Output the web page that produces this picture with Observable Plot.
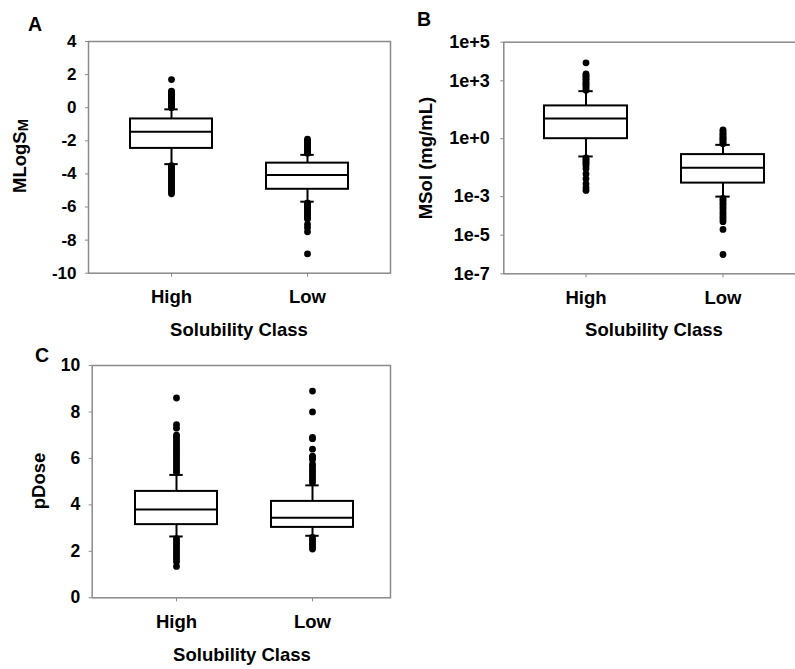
<!DOCTYPE html>
<html>
<head>
<meta charset="utf-8">
<script src="https://cdn.jsdelivr.net/npm/d3@7"></script>
<script src="https://cdn.jsdelivr.net/npm/@observablehq/plot@0.6"></script>
<style>
  html, body { margin: 0; padding: 0; background: #fff; overflow: hidden; }
  #wrap { position: relative; width: 795px; height: 669px; overflow: hidden; background: #fff;
          font-family: "Liberation Sans", Arial, sans-serif; font-weight: bold; color: #000; }
  .panel { position: absolute; }
  .letter { position: absolute; font-size: 19.5px; line-height: 1; font-weight: bold; }
  .xtitle { position: absolute; font-size: 18.5px; line-height: 1; transform: translateX(-50%); white-space: nowrap; }
  .ytitle { position: absolute; font-size: 18.5px; line-height: 1; white-space: nowrap;
            transform: translate(-50%, -50%) rotate(-90deg); }
  .ytitle sub { font-size: 0.8em; vertical-align: -0.15em; line-height: 0; }
</style>
</head>
<body>
<div id="wrap"></div>
<script>
// ---------- data ----------
const categories = ["High", "Low"];

// Panel A: MLogSM
const aTicks = [-10, -8, -6, -4, -2, 0, 2, 4];
const aLowerCap = [-3.41, -5.68];
const aQ1 = [-2.46, -4.93];
const aMedian = [-1.45, -4.06];
const aQ3 = [-0.68, -3.35];
const aUpperCap = [-0.1, -2.85];
const aOutliersHigh = [0.0, 0.1, 0.15, 0.2, 0.3, 0.35, 0.4, 0.5, 0.55, 0.6, 0.7, 0.75, 0.8, 0.9, 0.95, 1.0, 1.7,
  -3.5, -3.6, -3.7, -3.8, -3.9, -4.0, -4.1, -4.2, -4.3, -4.4, -4.5, -4.6, -4.7, -4.8, -4.9, -5.0, -5.1, -5.2];
const aOutliersLow = [-2.75, -2.7, -2.6, -2.5, -2.45, -2.4, -2.3, -2.25, -2.2, -2.1, -2.05, -2.0, -1.9,
  -5.75, -5.85, -5.95, -6.05, -6.15, -6.25, -6.35, -6.45, -6.55, -6.65, -6.73, -7.05, -7.25, -7.5, -8.83];

// Panel B: MSol (mg/mL), log scale
const bTicks = [1e-7, 1e-5, 1e-3, 1, 1e3, 1e5];
const bTickLabels = ["1e-7", "1e-5", "1e-3", "1e+0", "1e+3", "1e+5"];
const bLowerCap = [0.12, 0.001];
const bQ1 = [1.0, 0.005];
const bMedian = [11, 0.031];
const bQ3 = [50, 0.15];
const bUpperCap = [290, 0.48];
const bOutliersHigh = [320, 400, 500, 600, 700, 800, 1000, 1200, 1400, 1700, 2000, 2300, 8500,
  0.1, 0.085, 0.07, 0.06, 0.05, 0.04, 0.028, 0.015, 0.0083, 0.0046, 0.0029, 0.0021];
const bOutliersLow = [0.55, 0.65, 0.75, 0.9, 1.0, 1.2, 1.4, 1.7, 2.0, 2.5, 2.9,
  8e-4, 6.5e-4, 5e-4, 4e-4, 3e-4, 2.4e-4, 1.8e-4, 1.4e-4, 1.1e-4, 8.5e-5, 6.5e-5, 5e-5, 2e-5, 1e-6];

// Panel C: pDose
const cTicks = [0, 2, 4, 6, 8, 10];
const cLowerCap = [2.64, 2.67];
const cQ1 = [3.15, 3.03];
const cMedian = [3.8, 3.45];
const cQ3 = [4.58, 4.15];
const cUpperCap = [5.29, 4.84];
const cOutliersHigh = [5.4, 5.5, 5.6, 5.7, 5.8, 5.9, 6.0, 6.1, 6.2, 6.3, 6.4, 6.5, 6.6, 6.7, 6.8, 6.9, 7.0, 7.3, 7.45, 8.6,
  2.55, 2.45, 2.35, 2.25, 2.15, 2.05, 1.95, 1.85, 1.75, 1.65, 1.55, 1.35];
const cOutliersLow = [4.95, 5.05, 5.15, 5.25, 5.35, 5.45, 5.55, 5.65, 5.75, 5.95, 6.05, 6.1, 6.4, 6.85, 6.9, 8.0, 8.9,
  2.6, 2.5, 2.4, 2.3, 2.2, 2.1];

// ---------- helpers ----------
function summaryTable(lo, q1, med, q3, hi) {
  return categories.map((c, i) => ({cls: c, lo: lo[i], q1: q1[i], med: med[i], q3: q3[i], hi: hi[i]}));
}
function outlierTable(high, low) {
  return high.map(v => ({cls: "High", v})).concat(low.map(v => ({cls: "Low", v})));
}

const wrap = document.getElementById("wrap");
const GRAY = "#8a8a8a";
const LW = 2;

function panel({left, top, width, height, mL, mR, mT, mB, xRange, y, yTicks, yFormat, yPad, yFont, summary, outliers}) {
  const chart = Plot.plot({
    width, height,
    marginLeft: mL, marginRight: mR, marginTop: mT, marginBottom: mB,
    style: {fontFamily: '"Liberation Sans", Arial, sans-serif', color: "black", background: "transparent", overflow: "visible"},
    x: {type: "band", domain: categories, range: xRange, paddingInner: 0.395, paddingOuter: 0.3},
    y: y,
    marks: [
      Plot.frame({stroke: GRAY, strokeWidth: 1.5}),
      Plot.axisY({ticks: yTicks, tickFormat: yFormat, tickSize: 3, tickPadding: yPad, stroke: GRAY, fill: "black",
                  fontSize: yFont, fontWeight: "bold", label: null}),
      Plot.axisX({tickSize: 4, tickPadding: 13, stroke: GRAY, fill: "black", fontSize: 18.5, fontWeight: "bold", label: null}),
      Plot.dot(outliers, {x: "cls", y: "v", r: 3.4, fill: "black", stroke: "none"}),
      Plot.ruleX(summary, {x: "cls", y1: "q3", y2: "hi", stroke: "black", strokeWidth: LW}),
      Plot.ruleX(summary, {x: "cls", y1: "q1", y2: "lo", stroke: "black", strokeWidth: LW}),
      Plot.tickY(summary, {x: "cls", y: "hi", stroke: "black", strokeWidth: LW, insetLeft: 34.3, insetRight: 34.3}),
      Plot.tickY(summary, {x: "cls", y: "lo", stroke: "black", strokeWidth: LW, insetLeft: 34.3, insetRight: 34.3}),
      Plot.barY(summary, {x: "cls", y1: "q1", y2: "q3", fill: "white", stroke: "black", strokeWidth: LW}),
      Plot.tickY(summary, {x: "cls", y: "med", stroke: "black", strokeWidth: LW})
    ]
  });
  chart.classList.add("panel");
  chart.style.left = left + "px";
  chart.style.top = top + "px";
  wrap.appendChild(chart);
}

panel({
  left: 0, top: 0, width: 400, height: 340, mL: 88, mR: 10, mT: 41, mB: 67.3,
  xRange: [88.6, 389.1],
  y: {domain: [-10, 4]}, yTicks: aTicks, yFormat: d => String(d), yPad: 9, yFont: 17,
  summary: summaryTable(aLowerCap, aQ1, aMedian, aQ3, aUpperCap),
  outliers: outlierTable(aOutliersHigh, aOutliersLow)
});

panel({
  left: 400, top: 0, width: 420, height: 340, mL: 103.3, mR: 10, mT: 41.7, mB: 66.7,
  xRange: [103.2, 405.3],
  y: {type: "log", domain: [1e-7, 1e5]}, yTicks: bTicks, yFormat: d => bTickLabels[bTicks.indexOf(d)], yPad: 11, yFont: 18,
  summary: summaryTable(bLowerCap, bQ1, bMedian, bQ3, bUpperCap),
  outliers: outlierTable(bOutliersHigh, bOutliersLow)
});

panel({
  left: 0, top: 330, width: 400, height: 339, mL: 91.7, mR: 10, mT: 35, mB: 71.7,
  xRange: [93.4, 394.6],
  y: {domain: [0, 10]}, yTicks: cTicks, yFormat: d => String(d), yPad: 9, yFont: 17.5,
  summary: summaryTable(cLowerCap, cQ1, cMedian, cQ3, cUpperCap),
  outliers: outlierTable(cOutliersHigh, cOutliersLow)
});

// ---------- text: panel letters and axis titles ----------
function addDiv(cls, html, x, y) {
  const d = document.createElement("div");
  d.className = cls;
  d.innerHTML = html;
  d.style.left = x + "px";
  d.style.top = y + "px";
  wrap.appendChild(d);
}
addDiv("letter", "A", 28, 15);
addDiv("letter", "B", 417, 10);
addDiv("letter", "C", 35, 346);

addDiv("xtitle", "Solubility Class", 239, 321);
addDiv("xtitle", "Solubility Class", 654, 321);
addDiv("xtitle", "Solubility Class", 242, 646);

addDiv("ytitle", "MLogS<sub>M</sub>", 20, 156);
addDiv("ytitle", "MSol (mg/mL)", 426, 158);
addDiv("ytitle", "pDose", 39, 481);
</script>
</body>
</html>
